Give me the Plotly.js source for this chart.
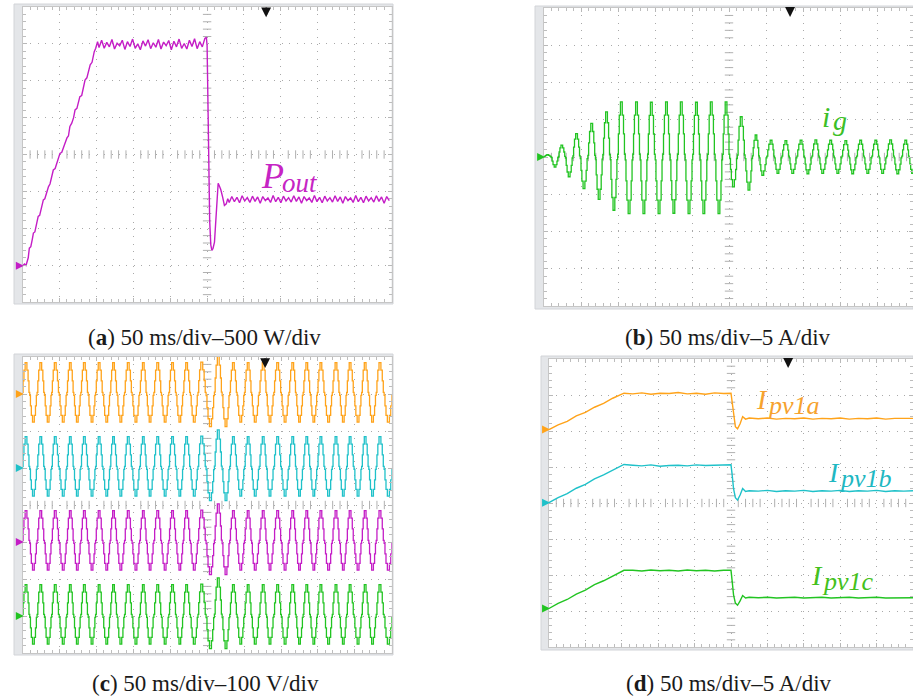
<!DOCTYPE html>
<html><head><meta charset="utf-8">
<script src="https://cdn.plot.ly/plotly-3.0.1.min.js"></script>
<style>html,body{margin:0;padding:0;background:#fff;}#chart{width:913px;height:697px;}</style>
</head><body><div id="chart"></div>
<script>
// ================= DATA (in divisions) =================
// (a) Pout : 50 ms/div, 500 W/div
const aRampT = [0.00,0.05,0.09,0.11,0.15,0.18,0.22,0.26,0.29,0.33,0.38,0.42,0.46,0.51,0.56,0.60,0.65,0.70,0.74,0.79,0.83,0.88,0.93,0.97,1.01,1.06,1.10,1.15,1.20,1.24,1.28,1.33,1.38,1.42,1.47,1.51,1.55,1.60,1.65,1.69,1.74,1.79,1.83,1.88,1.91,1.94,1.98,2.03];
const aRampP = [0.98,1.03,0.99,1.08,1.20,1.46,1.50,1.70,1.87,1.90,2.20,2.32,2.35,2.60,2.77,2.80,3.00,3.13,3.20,3.45,3.58,3.62,3.80,3.95,4.03,4.06,4.20,4.31,4.45,4.50,4.76,4.85,5.00,5.21,5.25,5.40,5.57,5.60,5.80,6.02,6.08,6.25,6.43,6.50,6.70,6.79,6.88,7.06];
const aTopStart = 2.07, aTopStep = 0.07;
const aTopP = [6.90,7.10,6.88,7.04,6.92,7.12,6.86,7.02,6.95,7.10,6.85,7.06,6.93,7.13,6.88,7.00,6.84,7.08,6.94,7.11,6.87,7.03,6.91,7.12,6.86,7.05,6.95,7.09,6.84,7.07,6.92,7.13,6.88,7.01,6.86,7.10,6.93,7.14,6.87,7.06,6.92,7.15];
const aDropT = [4.98,5.00,5.02,5.04,5.07,5.10,5.13,5.16,5.20,5.23,5.27,5.30,5.33,5.37,5.42,5.47,5.52,5.56];
const aDropP = [7.18,6.95,5.60,3.80,2.20,1.55,1.40,1.45,1.62,2.10,2.90,3.22,3.15,3.05,2.85,2.62,2.66,2.80];
const aTailStart = 5.60, aTailStep = 0.07;
const aTailP = [2.70,2.86,2.72,2.84,2.69,2.88,2.74,2.83,2.70,2.87,2.73,2.85,2.68,2.86,2.75,2.82,2.70,2.89,2.72,2.84,2.69,2.87,2.74,2.83,2.71,2.88,2.73,2.85,2.68,2.86,2.75,2.82,2.70,2.89,2.72,2.84,2.69,2.87,2.74,2.83,2.71,2.88,2.73,2.85,2.68,2.86,2.75,2.82,2.70,2.89,2.72,2.84,2.69,2.87,2.74,2.83,2.71,2.88,2.73,2.85,2.68,2.86,2.75];

// (b) ig : 50 ms/div, 5 A/div  (positive and negative peaks of each cycle)
const bCenter = 4.0;
const bPeakT = [0.10,0.48,0.88,1.29,1.69,2.09,2.50,2.90,3.31,3.71,4.12,4.52,4.92,5.33,5.73,6.14,6.54,6.95,7.35,7.75,8.16,8.56,8.97,9.37,9.78];
const bPeakV = [4.06,4.32,4.63,4.90,5.21,5.48,5.48,5.47,5.48,5.48,5.47,5.48,5.48,5.08,4.59,4.45,4.44,4.45,4.46,4.45,4.44,4.45,4.45,4.46,4.45];
const bTroughT = [0.30,0.68,1.08,1.49,1.89,2.30,2.70,3.11,3.51,3.92,4.32,4.73,5.12,5.54,5.91,6.32,6.72,7.13,7.53,7.94,8.34,8.75,9.15,9.56,9.96];
const bTroughV = [3.73,3.47,3.15,2.86,2.57,2.48,2.48,2.48,2.49,2.48,2.48,2.48,3.20,3.11,3.51,3.56,3.56,3.55,3.56,3.56,3.55,3.56,3.56,3.55,3.56];

// (c) output voltages : 50 ms/div, 100 V/div (four channels, offsets from their own zero)
const cNames = ['orange','cyan','magenta','green'];
const cCenters = [7, 5, 3, 1];
const cPeakT = [0.09,0.49,0.88,1.29,1.67,2.07,2.46,2.86,3.27,3.66,4.06,4.44,4.85,5.30,5.71,6.11,6.52,6.91,7.32,7.70,8.08,8.49,8.87,9.28,9.68];
const cPeakA = [0.85,0.85,0.85,0.85,0.85,0.85,0.85,0.85,0.85,0.85,0.85,0.85,0.86,1.03,0.85,0.85,0.85,0.85,0.85,0.85,0.85,0.85,0.85,0.85,0.85];
const cTroughT = [-0.11,0.29,0.69,1.10,1.48,1.88,2.28,2.66,3.07,3.45,3.86,4.26,4.65,5.09,5.51,5.91,6.30,6.70,7.11,7.50,7.89,8.29,8.69,9.09,9.48,9.91];
const cTroughA = [-0.76,-0.76,-0.76,-0.76,-0.76,-0.76,-0.76,-0.76,-0.76,-0.76,-0.76,-0.76,-0.76,-0.88,-0.88,-0.76,-0.76,-0.76,-0.76,-0.76,-0.76,-0.76,-0.76,-0.76,-0.76,-0.76];

// stepped (multilevel) half-cycle shape
const stepPhase = [0.00,0.10,0.22,0.38,0.62,0.78,0.90];
const stepLevel = [0.05,0.42,0.76,1.00,0.76,0.42,0.05];

// (d) PV currents : 50 ms/div, 5 A/div
const dT = [0.00,0.25,0.50,0.75,1.00,1.25,1.50,1.75,2.06,2.30,2.55,2.80,3.05,3.30,3.55,3.80,4.05,4.30,4.55,4.80,5.00,5.03,5.07,5.12,5.18,5.25,5.32,5.40,5.50,5.75,6.00,6.25,6.50,6.75,7.00,7.25,7.50,7.75,8.00,8.25,8.50,8.75,9.00,9.25,9.50,9.75,10.0];
const dIpv1a = [6.04,6.17,6.27,6.42,6.52,6.66,6.77,6.91,7.05,7.03,7.06,7.02,7.05,7.04,7.07,7.03,7.05,7.02,7.06,7.04,7.05,6.80,6.40,6.12,6.06,6.20,6.40,6.33,6.36,6.34,6.36,6.33,6.35,6.34,6.36,6.33,6.35,6.34,6.36,6.33,6.35,6.34,6.36,6.33,6.35,6.34,6.35];
const dIpv1b = [4.01,4.15,4.26,4.41,4.52,4.67,4.78,4.92,5.07,5.05,5.03,5.06,5.02,5.04,5.05,5.03,5.06,5.04,5.05,5.06,5.06,4.80,4.40,4.15,4.08,4.22,4.40,4.32,4.34,4.33,4.35,4.32,4.34,4.33,4.35,4.32,4.34,4.33,4.35,4.32,4.34,4.33,4.35,4.32,4.34,4.33,4.34];
const dIpv1c = [1.07,1.21,1.32,1.47,1.58,1.73,1.84,1.98,2.13,2.13,2.11,2.14,2.12,2.13,2.11,2.14,2.12,2.13,2.11,2.13,2.13,1.85,1.45,1.22,1.16,1.28,1.43,1.36,1.38,1.37,1.38,1.36,1.37,1.38,1.36,1.37,1.38,1.36,1.37,1.38,1.36,1.37,1.38,1.36,1.37,1.38,1.37];

const captions = ['50 ms/div\u2013500 W/div','50 ms/div\u20135 A/div','50 ms/div\u2013100 V/div','50 ms/div\u20135 A/div'];
const captionTags = ['a','b','c','d'];

// ================= STYLE / LAYOUT =================
const W = 913, H = 697;
const fx = p => p / W, fy = p => 1 - p / H;
const COL = {orange:'#ffa31a', cyan:'#1fc1c9', magenta:'#c41dc6', green:'#22c422', black:'#111'};

const panels = [
  {s:'',  x0:22.7, x1:391.5, y0:7,   y1:302, xr:[0,10],      frame:[14,4,393,304]},
  {s:'2', x0:544,  x1:913,   y0:8,   y1:306, xr:[0,369/37],  frame:[535,6,913,309]},
  {s:'3', x0:22.7, x1:391.7, y0:357, y1:653, xr:[0,10],      frame:[14,354,393,655]},
  {s:'4', x0:549,  x1:913,   y0:359, y1:647, xr:[0,364/36.4], frame:[541,356,913,650]}
];

function axisBase(extra){
  return Object.assign({
    showticklabels:false, showgrid:true, gridcolor:'#a9a9a9', griddash:'1px,6.4px', gridwidth:1,
    dtick:1, tick0:0, ticks:'inside', ticklen:4, tickcolor:'#b8b8b8', tickwidth:1,
    showline:true, linecolor:'#c6c6c6', linewidth:1, mirror:'allticks', zeroline:false, fixedrange:true,
    minor:{ticks:'inside', ticklen:3, dtick:0.2, tick0:0, tickcolor:'#bdbdbd', showgrid:false}
  }, extra);
}

const layout = {
  width:W, height:H, margin:{l:0,r:0,t:0,b:0}, paper_bgcolor:'#ffffff', plot_bgcolor:'rgba(0,0,0,0)',
  showlegend:false, shapes:[], annotations:[]
};
panels.forEach(p => {
  layout['xaxis'+p.s] = axisBase({domain:[fx(p.x0), fx(p.x1)], range:p.xr, anchor:'y'+p.s});
  layout['yaxis'+p.s] = axisBase({domain:[fy(p.y1), fy(p.y0)], range:[0,8], anchor:'x'+p.s});
  const f = p.frame;
  layout.shapes.push({type:'rect', xref:'paper', yref:'paper', layer:'below', x0:fx(f[0]), x1:fx(f[2]), y0:fy(f[3]), y1:fy(f[1]), fillcolor:'#e4e6e9', line:{color:'#d2d4d8', width:1}});
  layout.shapes.push({type:'rect', xref:'paper', yref:'paper', layer:'below', x0:fx(p.x0), x1:fx(p.x1), y0:fy(p.y1), y1:fy(p.y0), fillcolor:'#ffffff', line:{width:0}});
});

const traces = [];
// centre-line tick marks (graticule decoration)
panels.forEach(p => {
  const vy = [], hx = [];
  for (let i = 1; i < 40; i++) if (i % 5) vy.push(i * 0.2);
  for (let i = 1; i < 50; i++) if (i % 5) hx.push(i * 0.2);
  traces.push({x:vy.map(()=>5), y:vy, xaxis:'x'+p.s, yaxis:'y'+p.s, mode:'markers', hoverinfo:'skip',
    marker:{symbol:'line-ew', size:6, line:{color:'#b0b0b0', width:1}}});
  traces.push({x:hx, y:hx.map(()=>4), xaxis:'x'+p.s, yaxis:'y'+p.s, mode:'markers', hoverinfo:'skip',
    marker:{symbol:'line-ns', size:6, line:{color:'#b0b0b0', width:1}}});
});

// build a stepped waveform from its read extremes
function steppedWave(peakT, peakV, troughT, troughV, center){
  const ext = [];
  peakT.forEach((t,i) => ext.push({t, v:peakV[i]}));
  troughT.forEach((t,i) => ext.push({t, v:troughV[i]}));
  ext.sort((a,b) => a.t - b.t);
  const xs = [], ys = [];
  ext.forEach((e,i) => {
    const wl = i > 0 ? (e.t - ext[i-1].t)/2 : (ext[i+1].t - e.t)/2;
    const wr = i < ext.length-1 ? (ext[i+1].t - e.t)/2 : wl;
    const amp = e.v - center;
    stepPhase.forEach((ph,j) => {
      xs.push(ph <= 0.5 ? e.t - wl + ph*2*wl : e.t + (ph-0.5)*2*wr);
      ys.push(center + amp*stepLevel[j]);
    });
    if (i === ext.length-1){ xs.push(e.t + wr); ys.push(center); }
  });
  return {xs, ys};
}

// channel ground markers (small coloured arrows at the left edge)
function chanMarker(ax, y, col){
  layout.annotations.push({xref:'x'+ax, yref:'y'+ax, x:0.03, y:y, text:'', showarrow:true, ax:-8, ay:0,
    arrowhead:2, arrowsize:1, arrowwidth:1.6, arrowcolor:col, standoff:0});
}

// (a) Pout
(function(){
  const x = [], y = [];
  aRampT.forEach((t,i)=>{x.push(t); y.push(aRampP[i]);});
  aTopP.forEach((v,i)=>{x.push(aTopStart + i*aTopStep); y.push(v);});
  aDropT.forEach((t,i)=>{x.push(t); y.push(aDropP[i]);});
  aTailP.forEach((v,i)=>{x.push(aTailStart + i*aTailStep); y.push(v);});
  traces.push({x, y, xaxis:'x', yaxis:'y', mode:'lines', line:{color:COL.magenta, width:1.4}, hoverinfo:'skip'});
  chanMarker('', aRampP[0], COL.magenta);
})();

// (b) ig
(function(){
  const w = steppedWave(bPeakT, bPeakV, bTroughT, bTroughV, bCenter);
  traces.push({x:[0].concat(w.xs), y:[bCenter].concat(w.ys), xaxis:'x2', yaxis:'y2', mode:'lines', line:{color:COL.green, width:1.3, shape:'hv'}, hoverinfo:'skip'});
  chanMarker('2', bCenter, COL.green);
})();

// (c) four voltage channels
cCenters.forEach((c,k) => {
  const w = steppedWave(cPeakT, cPeakA.map(a=>c+a), cTroughT, cTroughA.map(a=>c+a), c);
  traces.push({x:w.xs, y:w.ys, xaxis:'x3', yaxis:'y3', mode:'lines', line:{color:COL[cNames[k]], width:1.3, shape:'hv'}, hoverinfo:'skip'});
  chanMarker('3', c, COL[cNames[k]]);
});

// (d) PV currents
[[dIpv1a, COL.orange],[dIpv1b, COL.cyan],[dIpv1c, COL.green]].forEach(([vals,col]) => {
  traces.push({x:dT, y:vals, xaxis:'x4', yaxis:'y4', mode:'lines', line:{color:col, width:1.4}, hoverinfo:'skip'});
  chanMarker('4', vals[0], col);
});

// trigger arrows
[['x','y',6.6,7.72],['x2','y2',6.65,7.76],['x3','y3',6.57,7.70],['x4','y4',6.57,7.75]].forEach(a => {
  layout.annotations.push({xref:a[0], yref:a[1], x:a[2], y:a[3], text:'', showarrow:true, ax:0, ay:-11,
    arrowhead:2, arrowsize:0.9, arrowwidth:2.2, arrowcolor:COL.black, standoff:0});
});

// captions
const capPos = [[204,337],[728,337],[205,683],[729,683]];
captions.forEach((c,i) => {
  layout.annotations.push({xref:'paper', yref:'paper', x:fx(capPos[i][0]), y:fy(capPos[i][1]), xanchor:'center', yanchor:'middle',
    text:'(<b>'+captionTags[i]+'</b>) '+c, showarrow:false, font:{family:'Liberation Serif, serif', size:23, color:'#1a1a1a'}});
});

// in-plot labels (main letter + subscript)
function lbl(txt, x, y, size, col){
  layout.annotations.push({xref:'paper', yref:'paper', x:fx(x), y:fy(y), xanchor:'left', yanchor:'middle',
    text:'<i>'+txt+'</i>', showarrow:false, font:{family:'Liberation Serif, serif', size:size, color:col}});
}
lbl('P', 259, 176, 36, '#c624c4');   lbl('out', 280, 183, 27, '#c624c4');
lbl('i', 820, 117, 30, '#3cbf28');   lbl('g', 831, 121, 28, '#3cbf28');
lbl('I', 754, 399, 28, '#f6a22e');   lbl('pv1a', 765, 405, 26, '#f6a22e');
lbl('I', 826, 472, 28, '#1fb8c2');   lbl('pv1b', 837, 478, 26, '#1fb8c2');
lbl('I', 809, 575, 28, '#44c11c');   lbl('pv1c', 820, 581, 26, '#44c11c');

Plotly.newPlot('chart', traces, layout, {staticPlot:true, displayModeBar:false});
</script>
</body></html>
